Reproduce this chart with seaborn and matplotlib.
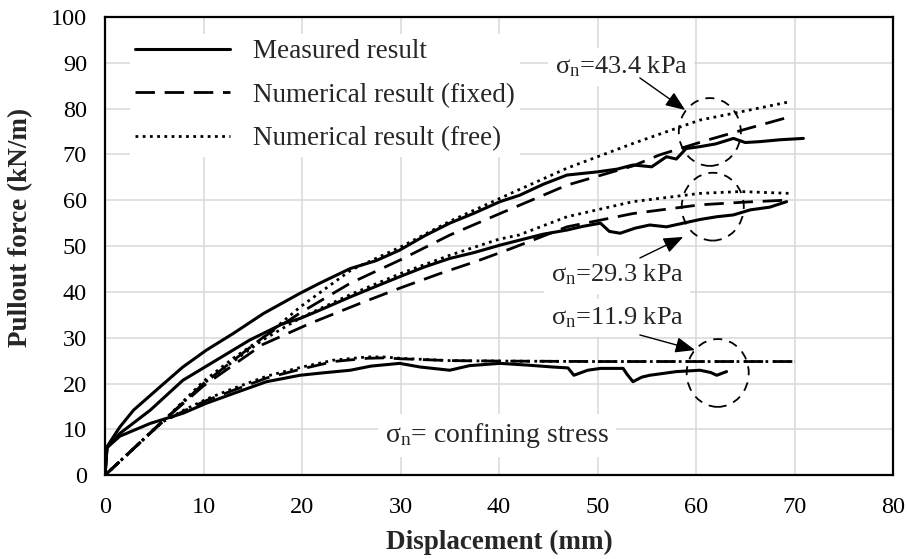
import matplotlib
matplotlib.use("Agg")
import matplotlib.pyplot as plt
from matplotlib.lines import Line2D
from matplotlib.patches import Ellipse
import seaborn as sns
import pandas as pd

# ---------------- data ----------------
meas_434_x = [0, 0.2, 1.5, 2.9, 5.6, 7.9, 10.3, 13.0, 16.1, 19.8, 21.8, 24.9, 27.5, 29.9, 32.5,
              35.0, 37.5, 40.1, 42.1, 44.5, 46.9, 50.0, 52.0, 53.6, 55.5, 57.0, 58.0, 59.0, 60.4,
              62.0, 63.8, 65.0, 66.5, 68.5, 70.9]
meas_434_y = [0, 6.2, 10.5, 14.2, 19.3, 23.6, 27.3, 30.9, 35.3, 39.7, 41.9, 45.1, 46.8, 49.1, 52.3,
              55.0, 57.2, 59.7, 61.1, 63.5, 65.5, 66.2, 66.8, 67.7, 67.3, 69.5, 69.0, 71.3, 71.7,
              72.3, 73.5, 72.6, 72.8, 73.2, 73.5]

meas_293_x = [0, 0.2, 1.5, 4.6, 7.9, 11.3, 14.7, 18.1, 19.8, 21.8, 24.9, 27.5, 29.9, 32.5, 35.0,
              37.5, 40.1, 42.1, 44.5, 46.9, 48.5, 50.3, 51.2, 52.3, 53.8, 55.3, 57.0, 58.7, 60.4,
              62.1, 63.8, 65.5, 67.5, 69.2]
meas_293_y = [0, 6.0, 9.1, 14.2, 20.7, 25.1, 29.5, 33.1, 34.2, 36.0, 38.9, 41.2, 43.3, 45.5, 47.3,
              48.6, 50.2, 51.3, 52.6, 53.5, 54.3, 55.0, 53.2, 52.8, 53.9, 54.6, 54.2, 55.0, 55.8,
              56.4, 56.8, 57.9, 58.5, 59.7]

meas_119_x = [0, 0.2, 1.5, 4.6, 7.9, 10.3, 13.0, 16.4, 19.8, 22.0, 24.9, 27.0, 29.9, 32.0, 35.0,
              37.0, 40.1, 43.0, 45.5, 47.0, 47.6, 49.0, 50.3, 52.6, 53.0, 53.6, 54.5, 55.3, 58.0,
              60.4, 61.5, 62.1, 63.1]
meas_119_y = [0, 6.0, 8.5, 11.3, 13.5, 15.7, 17.8, 20.4, 21.8, 22.3, 22.9, 23.8, 24.4, 23.6, 22.9,
              23.9, 24.4, 24.0, 23.6, 23.4, 21.8, 22.9, 23.3, 23.3, 22.0, 20.4, 21.4, 21.8, 22.6,
              22.9, 22.4, 21.8, 22.6]

fixed_434_x = [0, 3, 6, 10, 13, 16, 19.8, 24.9, 29.9, 35.0, 40.1, 46.9, 53.6, 56.3, 61.1, 65, 69.5]
fixed_434_y = [0, 6, 12, 20, 25, 30, 35.4, 41.9, 46.9, 52.4, 57.1, 63.3, 67.5, 69.9, 73.1, 75.5, 78.2]

free_434_x = [0, 3, 6, 10, 13, 16.4, 19.8, 25, 30, 35, 41.5, 46.9, 53.6, 60.4, 65, 69.5]
free_434_y = [0, 6, 12, 20.5, 25.5, 30.5, 36.7, 44.8, 49.8, 55.4, 61.8, 67.0, 72.4, 77.5, 79.5, 81.5]

fixed_293_x = [0, 3, 6, 10, 13, 16, 20.8, 25.9, 29.9, 34, 38, 41.4, 46.9, 53.6, 60.4, 65, 69]
fixed_293_y = [0, 6, 12, 19.5, 24, 28.5, 33.1, 37.5, 40.8, 44, 46.9, 49.6, 54.2, 57.1, 59, 59.6, 60]

free_293_x = [0, 3, 6, 10, 13, 16, 20, 25, 30, 35, 40, 42, 46.9, 53.6, 60.4, 64.5, 69.5]
free_293_y = [0, 6, 12, 20, 24.8, 29.5, 34.5, 39.5, 44, 48, 51.5, 52.4, 56.4, 59.7, 61.5, 61.9, 61.5]

fixed_119_x = [0, 3, 5.6, 8, 10.3, 13, 16.4, 20, 23.2, 26.6, 28.3, 30, 35, 40, 50, 60, 70]
fixed_119_y = [0, 6, 11.3, 14, 16.3, 18.5, 21.2, 23.2, 24.8, 25.5, 25.6, 25.4, 25.0, 24.9, 24.8, 24.8, 24.8]

free_119_x = [0, 3, 5.6, 8, 10.3, 13, 16.4, 20, 23.2, 26.6, 28.3, 30, 35, 40, 50, 60, 70]
free_119_y = [0, 6, 11.3, 14.2, 16.6, 18.9, 21.6, 23.6, 25.1, 25.8, 25.8, 25.5, 25.0, 24.9, 24.8, 24.8, 24.8]

x_ticks = [0, 10, 20, 30, 40, 50, 60, 70, 80]
y_ticks = [0, 10, 20, 30, 40, 50, 60, 70, 80, 90, 100]

legend_labels = ["Measured result", "Numerical result (fixed)", "Numerical result (free)"]
stress_labels = ["43.4", "29.3", "11.9"]

# ---------------- styling ----------------
sns.set_theme(style="white")
plt.rcParams["font.family"] = ["Liberation Serif", "DejaVu Serif"]
plt.rcParams["mathtext.default"] = "regular"

SOLID = "-"
DASH = (0, (7, 3.5))
DOT = (0, (1, 1.6))

fig, ax = plt.subplots(figsize=(9.07, 5.59), dpi=100)
fig.subplots_adjust(left=0.1158, right=0.9846, bottom=0.150, top=0.9696)

series = [
    (meas_434_x, meas_434_y, SOLID, 2.2),
    (meas_293_x, meas_293_y, SOLID, 2.2),
    (meas_119_x, meas_119_y, SOLID, 2.2),
    (fixed_434_x, fixed_434_y, DASH, 2.0),
    (fixed_293_x, fixed_293_y, DASH, 2.0),
    (fixed_119_x, fixed_119_y, DASH, 2.0),
    (free_434_x, free_434_y, DOT, 2.0),
    (free_293_x, free_293_y, DOT, 2.0),
    (free_119_x, free_119_y, DOT, 2.0),
]
for xs, ys, ls, lw in series:
    df = pd.DataFrame({"x": xs, "y": ys})
    sns.lineplot(data=df, x="x", y="y", ax=ax, color="black", linestyle=ls,
                 lw=lw, estimator=None, sort=False, zorder=3)

ax.set_xlim(0, 80)
ax.set_ylim(0, 100)
ax.set_xticks(x_ticks)
ax.set_yticks(y_ticks)
ax.grid(True, color="#d9d9d9", lw=1.1, zorder=0)
ax.set_axisbelow(True)
for sp in ax.spines.values():
    sp.set_color("black")
    sp.set_linewidth(1.6)
ax.tick_params(axis="both", direction="in", length=4.5, width=1.2, colors="black",
               labelsize=17.5)
ax.tick_params(axis="x", pad=16)
ax.tick_params(axis="y", pad=13)
ax.set_xlabel("Displacement (mm)", fontsize=19.5, fontweight="bold", labelpad=8)
ax.set_ylabel("Pullout force (kN/m)", fontsize=19.5, fontweight="bold")
ax.yaxis.set_label_coords(-0.091, 0.541)

# legend
handles = [Line2D([], [], color="black", lw=2.2, linestyle=SOLID),
           Line2D([], [], color="black", lw=2.0, linestyle=DASH),
           Line2D([], [], color="black", lw=2.0, linestyle=DOT)]
leg = ax.legend(handles, legend_labels, loc="upper left", bbox_to_anchor=(0.014, 0.993),
                fontsize=19.5, handlelength=3.5, handletextpad=0.85, labelspacing=0.69,
                borderpad=0.2, frameon=True, facecolor="white", edgecolor="none",
                framealpha=1, fancybox=False)
leg.set_zorder(5)

# dashed circles
for cx, cy in [(61.4, 74.9), (61.7, 58.6), (62.2, 22.3)]:
    ax.add_patch(Ellipse((cx, cy), 6.3, 14.8, fill=False, edgecolor="black", lw=1.3,
                         linestyle=(0, (5, 4)), zorder=4))

box = dict(boxstyle="square,pad=0.25", fc="white", ec="none")
arrow = dict(arrowstyle="-|>,head_length=1.0,head_width=0.4", color="black", lw=1.0,
             shrinkA=0, shrinkB=0)
ann = [
    (stress_labels[0], (52.4, 89.1), (54.3, 86.7), (58.9, 79.7)),
    (stress_labels[1], (52.0, 43.7), (54.3, 47.4), (58.7, 52.0)),
    (stress_labels[2], (52.0, 34.3), (54.3, 30.6), (59.9, 27.3)),
]
for lab, tpos, a0, a1 in ann:
    ax.text(tpos[0], tpos[1], "σ$_n$=" + lab + " kPa", fontsize=19, ha="center", va="center",
            bbox=box, zorder=6)
    ax.annotate("", xy=a1, xytext=a0, arrowprops=arrow, zorder=6)

ax.text(39.8, 8.7, "σ$_n$= confining stress", fontsize=20, ha="center", va="center",
        bbox=box, zorder=6)

fig.savefig("out.png", dpi=100)
